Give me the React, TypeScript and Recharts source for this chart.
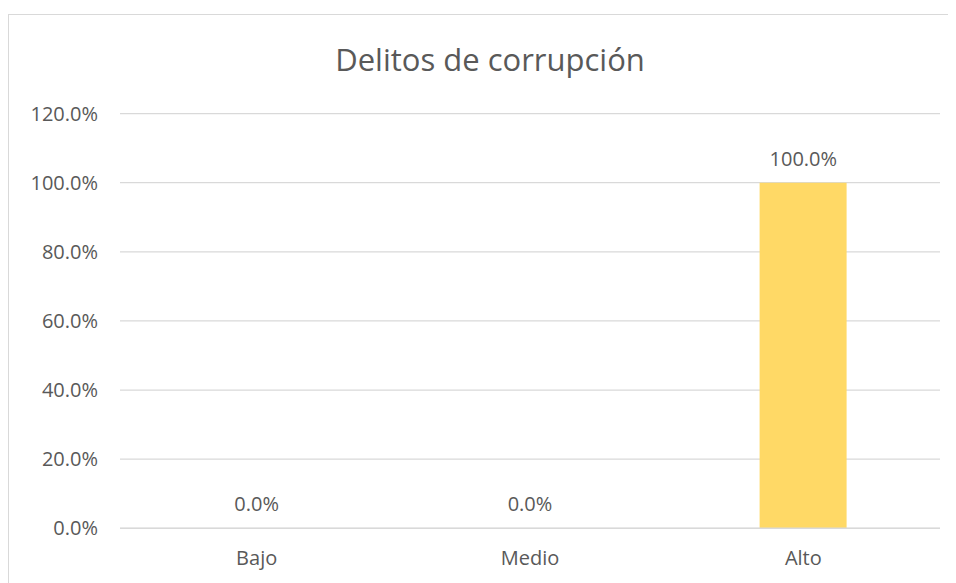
import { ComposedChart, Bar, Line, XAxis, YAxis, CartesianGrid, LabelList } from "recharts";

// Delitos de corrupción — nivel (Bajo / Medio / Alto)
const categories = ["Bajo", "Medio", "Alto"];
const shares = [0, 0, 1];
const yTicks = [0, 0.2, 0.4, 0.6, 0.8, 1.0, 1.2];

const data = categories.map((nivel, i) => ({ nivel, share: shares[i] }));

const GRAY = "#595959";
const GRID = "#d9d9d9";
const FONT = "'Open Sans', 'Noto Sans', sans-serif";
const TICK = { fontSize: 20, fill: GRAY, fontFamily: FONT };

const pct = (v: number) => `${(v * 100).toFixed(1)}%`;

export default function App() {
  return (
    <div style={{ position: "relative", width: 948, height: 575, fontFamily: FONT, background: "#fff", overflow: "hidden" }}>
      <div
        style={{
          position: "absolute",
          left: 0,
          top: 6,
          right: 0,
          bottom: 0,
          borderTop: `1.5px solid ${GRID}`,
          borderLeft: `1.5px solid ${GRID}`,
        }}
      />
      <div
        style={{
          position: "absolute",
          top: 29,
          left: 482 - 300,
          width: 600,
          textAlign: "center",
          fontSize: 31,
          color: GRAY,
          lineHeight: "44px",
        }}
      >
        Delitos de corrupción
      </div>
      <div style={{ position: "absolute", left: 0, top: 0 }}>
        <ComposedChart
          width={948}
          height={575}
          data={data}
          margin={{ top: 105.6, right: 16, left: 0, bottom: 24 }}
          barCategoryGap="34%"
        >
          <CartesianGrid vertical={false} stroke={GRID} strokeWidth={1.3} />
          <XAxis
            dataKey="nivel"
            height={30.7}
            tick={TICK}
            axisLine={{ stroke: GRID, strokeWidth: 1.5 }}
            tickLine={false}
            tickMargin={16}
          />
          <YAxis
            domain={[0, 1.2]}
            ticks={yTicks}
            width={112}
            tick={TICK}
            axisLine={false}
            tickLine={false}
            tickMargin={16}
            tickFormatter={pct}
            interval={0}
          />
          <Bar dataKey="share" fill="#FFD966" isAnimationActive={false} />
          {/* invisible series that only carries the data labels (zero bars too) */}
          <Line
            dataKey="share"
            stroke="none"
            dot={false}
            activeDot={false}
            isAnimationActive={false}
          >
            <LabelList
              dataKey="share"
              position="top"
              offset={17}
              formatter={(v: number) => pct(v)}
              style={{ ...TICK }}
            />
          </Line>
        </ComposedChart>
      </div>
    </div>
  );
}
